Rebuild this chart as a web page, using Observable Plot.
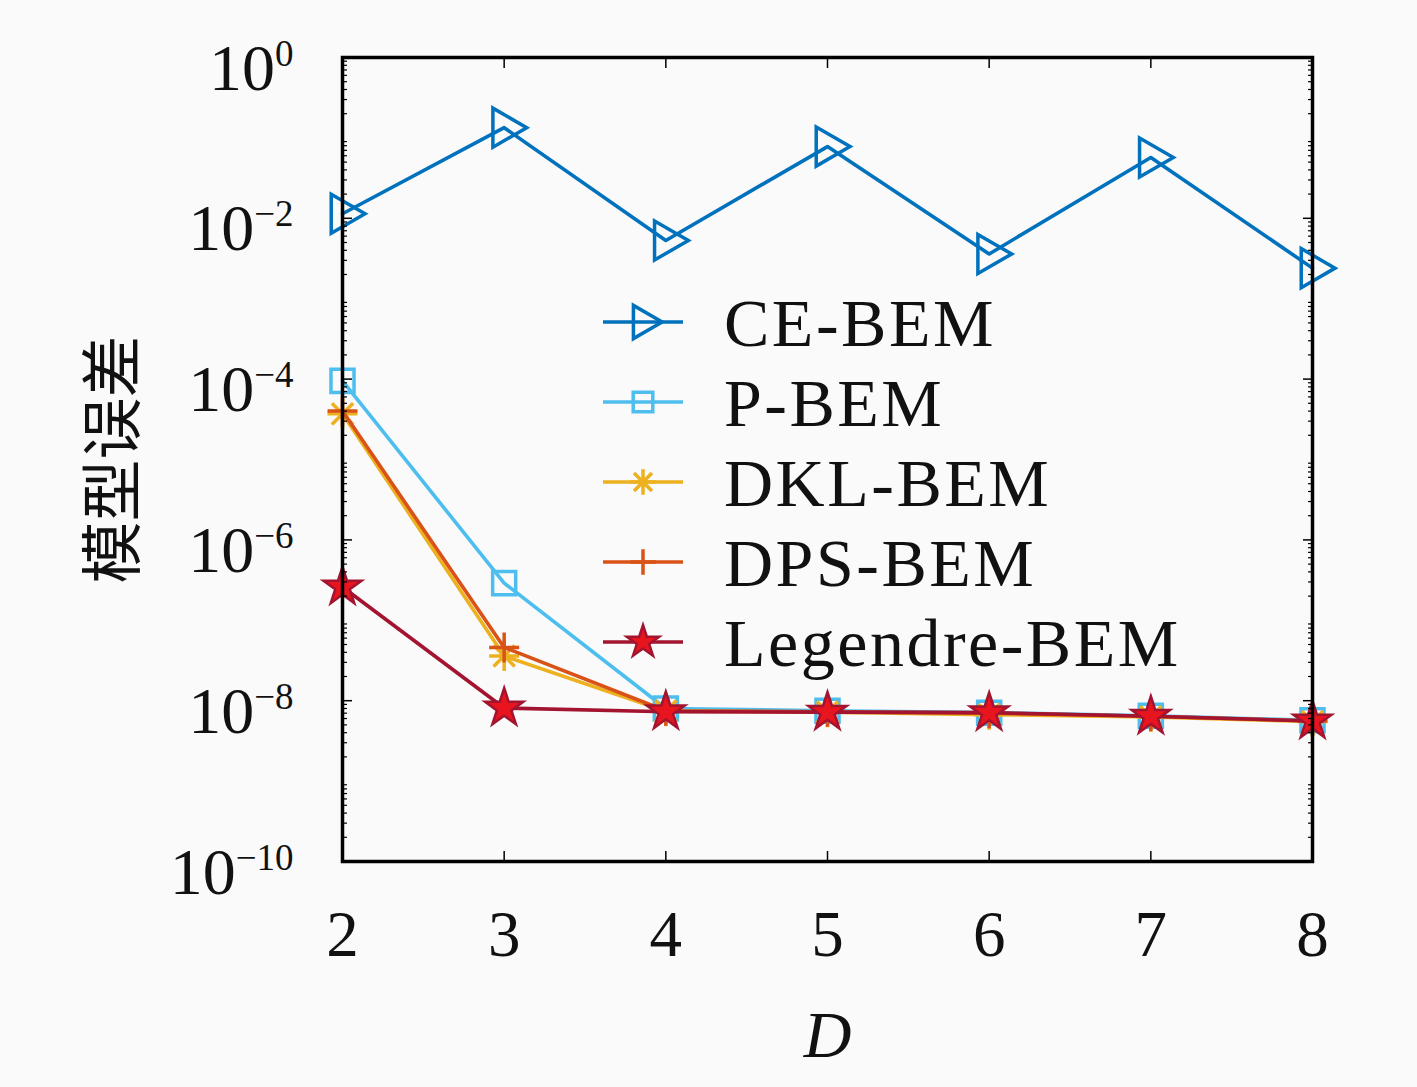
<!DOCTYPE html>
<html><head><meta charset="utf-8">
<script src="https://cdn.jsdelivr.net/npm/d3@7"></script>
<script src="https://cdn.jsdelivr.net/npm/@observablehq/plot@0.6"></script>
<style>
html,body{margin:0;padding:0;background:#fafafa;}
#chart{position:relative;width:1417px;height:1087px;}
</style></head><body><div id="chart"></div>
<script>
// ---- data ----
const D = [2, 3, 4, 5, 6, 7, 8];
const seriesNames = ["CE-BEM", "P-BEM", "DKL-BEM", "DPS-BEM", "Legendre-BEM"];
const ceBEM       = [0.0114, 0.134, 0.0053, 0.078, 0.0036, 0.057, 0.0024];
const pBEM        = [9.5e-5, 2.9e-7, 8.0e-9, 7.5e-9, 7.1e-9, 6.5e-9, 5.7e-9];
const dklBEM      = [3.7e-5, 3.6e-8, 7.4e-9, 7.2e-9, 6.7e-9, 6.3e-9, 5.5e-9];
const dpsBEM      = [4.0e-5, 4.6e-8, 7.5e-9, 7.3e-9, 7.0e-9, 6.4e-9, 5.6e-9];
const legendreBEM = [2.6e-7, 8.1e-9, 7.3e-9, 7.2e-9, 7.1e-9, 6.4e-9, 5.6e-9];
const yMajorTicks = [1, 1e-2, 1e-4, 1e-6, 1e-8, 1e-10];
const xTicks = [2, 3, 4, 5, 6, 7, 8];
const yLabel = "模型误差";
const xLabel = "D";

// ---- custom symbols (MATLAB-like) ----
const asteriskSym = {
  draw(ctx, size) {
    const r = Math.sqrt(size / Math.PI);
    const q = r * Math.SQRT1_2;
    ctx.moveTo(-r, 0); ctx.lineTo(r, 0);
    ctx.moveTo(0, -r); ctx.lineTo(0, r);
    ctx.moveTo(-q, -q); ctx.lineTo(q, q);
    ctx.moveTo(-q, q); ctx.lineTo(q, -q);
  }
};
const plusSym = {
  draw(ctx, size) {
    const r = Math.sqrt(size / Math.PI);
    ctx.moveTo(-r, 0); ctx.lineTo(r, 0);
    ctx.moveTo(0, -r); ctx.lineTo(0, r);
  }
};

// ---- styles ----
const serif = "'Liberation Serif', 'DejaVu Serif', serif";
const styles = [
  {color: "#0072BD", symbol: d3.symbolTriangle, r: 14.5, rotate: 90, fill: "none", mstroke: "#0072BD", sw: 3.5},
  {color: "#4DBEEE", symbol: d3.symbolSquare,   r: 13,   rotate: 0,  fill: "none", mstroke: "#4DBEEE", sw: 3.5},
  {color: "#EDB120", symbol: asteriskSym,       r: 15,   rotate: 0,  fill: "none", mstroke: "#EDB120", sw: 3.5},
  {color: "#D95319", symbol: plusSym,           r: 15,   rotate: 0,  fill: "none", mstroke: "#D95319", sw: 3.5},
  {color: "#A2142F", symbol: d3.symbolStar,     r: 12,   rotate: 0,  fill: "#E8141E", mstroke: "#A2142F", sw: 2.5}
];
const allValues = [ceBEM, pBEM, dklBEM, dpsBEM, legendreBEM];
const tables = allValues.map((vals, i) => D.map((d, j) => ({D: d, value: vals[j], series: seriesNames[i]})));

const yMinorTicks = [];
for (let e = -10; e < 0; e++) for (let m = 2; m <= 9; m++) yMinorTicks.push(m * Math.pow(10, e));

const W = 1417, H = 1087;
const mL = 342, mR = W - 1312, mT = 57, mB = H - 861;

const marks = [];
tables.forEach((rows, i) => {
  const s = styles[i];
  marks.push(Plot.line(rows, {x: "D", y: "value", stroke: s.color, strokeWidth: 3.6}));
  marks.push(Plot.dot(rows, {x: "D", y: "value", symbol: s.symbol, r: s.r, rotate: s.rotate,
    stroke: s.mstroke, fill: s.fill, strokeWidth: s.sw}));
});

const chart = Plot.plot({
  width: W, height: H,
  marginLeft: mL, marginRight: mR, marginTop: mT, marginBottom: mB,
  style: {fontFamily: serif, background: "transparent", overflow: "visible"},
  x: {domain: [2, 8]},
  y: {type: "log", domain: [1e-10, 1]},
  marks: [
    ...marks,
    Plot.axisX({anchor: "bottom", ticks: xTicks, tickSize: 0, tickPadding: 48, fontSize: 65, fill: "#111",
      tickFormat: d => String(d), label: null}),
    Plot.axisX({anchor: "bottom", ticks: xTicks, tickSize: -10, tickFormat: () => "", label: null, strokeWidth: 1.5}),
    Plot.axisX({anchor: "top", ticks: xTicks, tickSize: -10, tickFormat: () => "", label: null, strokeWidth: 1.5}),
    Plot.axisY({anchor: "left", ticks: yMajorTicks, tickSize: 0, tickPadding: 49, fontSize: 66, dy: 11, fill: "#111",
      tickFormat: d => String(Math.round(Math.log10(d))), label: null}),
    Plot.axisY({anchor: "left", ticks: yMajorTicks, tickSize: -10, tickFormat: () => "", label: null, strokeWidth: 1.5}),
    Plot.axisY({anchor: "right", ticks: yMajorTicks, tickSize: -10, tickFormat: () => "", label: null, strokeWidth: 1.5}),
    Plot.axisY({anchor: "left", ticks: yMinorTicks, tickSize: -5, tickFormat: () => "", label: null, strokeWidth: 1.2}),
    Plot.axisY({anchor: "right", ticks: yMinorTicks, tickSize: -5, tickFormat: () => "", label: null, strokeWidth: 1.2}),
    Plot.frame({stroke: "black", strokeWidth: 3.5}),
    Plot.text([yLabel], {text: d => d, frameAnchor: "left", dx: -227, rotate: -90, textAnchor: "middle", fontSize: 62,
      fontFamily: "'Noto Sans CJK SC', sans-serif", fill: "#111"}),
    Plot.text([xLabel], {text: d => d, frameAnchor: "bottom", dy: 195, fontSize: 66, fontStyle: "italic", fill: "#111"})
  ]
});

// superscript exponents on the y tick labels
d3.select(chart).selectAll('g[aria-label="y-axis tick label"] text').each(function () {
  const exp = this.textContent;
  if (!exp) return;
  const sel = d3.select(this);
  sel.text("");
  sel.append("tspan").text("10");
  sel.append("tspan").attr("dy", -24).attr("font-size", 37).text(exp.replace("-", "\u2212"));
});

// legend inside the plot
const svg = d3.select(chart);
const lg = svg.append("g").attr("class", "legend");
seriesNames.forEach((name, i) => {
  const s = styles[i];
  const cy = 322 + i * 80;
  const g = lg.append("g").attr("transform", `translate(0,${cy})`);
  g.append("line").attr("x1", 603).attr("x2", 683).attr("y1", 0).attr("y2", 0)
    .attr("stroke", s.color).attr("stroke-width", 3.6);
  const rr = s.r * 0.85;
  g.append("path").attr("d", d3.symbol(s.symbol, Math.PI * rr * rr)())
    .attr("transform", `translate(643,0) rotate(${s.rotate})`)
    .attr("fill", s.fill).attr("stroke", s.mstroke).attr("stroke-width", s.sw);
  g.append("text").attr("x", 724).attr("y", 24).attr("font-size", 68).attr("letter-spacing", 2.5)
    .attr("text-anchor", "start")
    .attr("font-family", serif).attr("fill", "#111").text(name);
});

document.getElementById("chart").appendChild(chart);
</script>
</body></html>
